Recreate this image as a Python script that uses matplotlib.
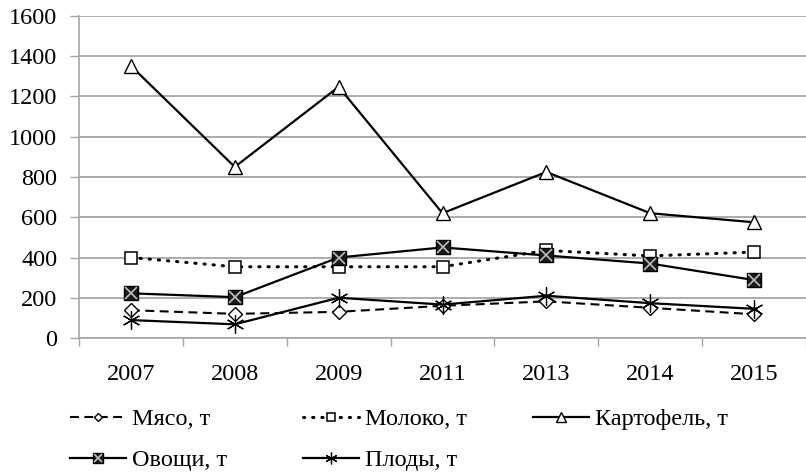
import matplotlib.pyplot as plt
import numpy as np
from matplotlib.legend_handler import HandlerTuple

years = ['2007', '2008', '2009', '2011', '2013', '2014', '2015']
meat = [138, 120, 130, 160, 182, 150, 118]
milk = [400, 354, 354, 354, 435, 408, 427]
potato = [1352, 850, 1248, 620, 825, 620, 575]
veg = [222, 203, 400, 450, 410, 370, 288]
fruit = [89, 68, 200, 166, 210, 173, 145]

yticks = [0, 200, 400, 600, 800, 1000, 1200, 1400, 1600]

plt.rcParams['font.family'] = ['Liberation Serif', 'DejaVu Serif']
grey = '#a6a6a6'

fig = plt.figure(figsize=(8.06, 4.74), dpi=100)
ax = fig.add_axes([79 / 806, 1 - 338 / 474, 727 / 806, 322 / 474])
x = np.arange(len(years))

h_meat, = ax.plot(x, meat, color='black', lw=1.5, ls=(0, (4.3, 2.6)),
                  marker='D', ms=7, mfc='white', mec='black', mew=1, zorder=3)
h_milk, = ax.plot(x, milk, color='black', lw=2.2, ls=(0, (0.4, 2.6)),
                  dash_capstyle='round', marker='s', ms=9, mfc='white',
                  mec='black', mew=1.1, zorder=3)
h_pot, = ax.plot(x, potato, color='black', lw=1.6, marker='^', ms=10,
                 mfc='white', mec='black', mew=1, zorder=3)
h_veg, = ax.plot(x, veg, color='black', lw=1.6, marker='s', ms=10,
                 mfc='#1a1a1a', mec='black', mew=1, zorder=4)
h_vegx, = ax.plot(x, veg, ls='none', marker='x', ms=8, mec='#bdbdbd',
                  mew=1.2, zorder=5)
h_fruit, = ax.plot(x, fruit, color='black', lw=1.6, marker=(6, 2, 0), ms=13,
                   mec='black', mew=0.9, zorder=3)

ax.set_xlim(-0.5, len(years) - 0.5)
ax.set_ylim(0, 1600)
ax.set_yticks(yticks)
ax.set_yticklabels([str(v) for v in yticks])
ax.set_xticks(x)
ax.set_xticklabels(years)
ax.set_xticks(np.arange(-0.5, len(years)), minor=True)
ax.tick_params(axis='x', which='major', length=0, pad=19, labelsize=17.5)
ax.tick_params(axis='x', which='minor', length=6, color=grey, width=1)
ax.tick_params(axis='y', length=6.5, color=grey, width=1, pad=9, labelsize=17.5)
ax.grid(axis='y', color=grey, lw=1.3)
ax.set_axisbelow(True)
for s in ['top', 'right']:
    ax.spines[s].set_visible(False)
for s in ['left', 'bottom']:
    ax.spines[s].set_color(grey)
    ax.spines[s].set_linewidth(1.2)

kw = dict(loc='upper left', frameon=False, fontsize=17.5, handlelength=2.3,
          handletextpad=0.25, labelspacing=0.8, borderpad=0, borderaxespad=0,
          markerscale=0.65)
top = 1 - 408 / 474
fig.legend([h_meat, (h_veg, h_vegx)], ['Мясо, т', 'Овощи, т'],
           bbox_to_anchor=(70 / 806, top),
           handler_map={tuple: HandlerTuple(ndivide=1)}, **kw)
fig.legend([h_milk, h_fruit], ['Молоко, т', 'Плоды, т'],
           bbox_to_anchor=(303 / 806, top), **kw)
fig.legend([h_pot], ['Картофель, т'],
           bbox_to_anchor=(533 / 806, top), **kw)

fig.savefig('out.png', dpi=100)
